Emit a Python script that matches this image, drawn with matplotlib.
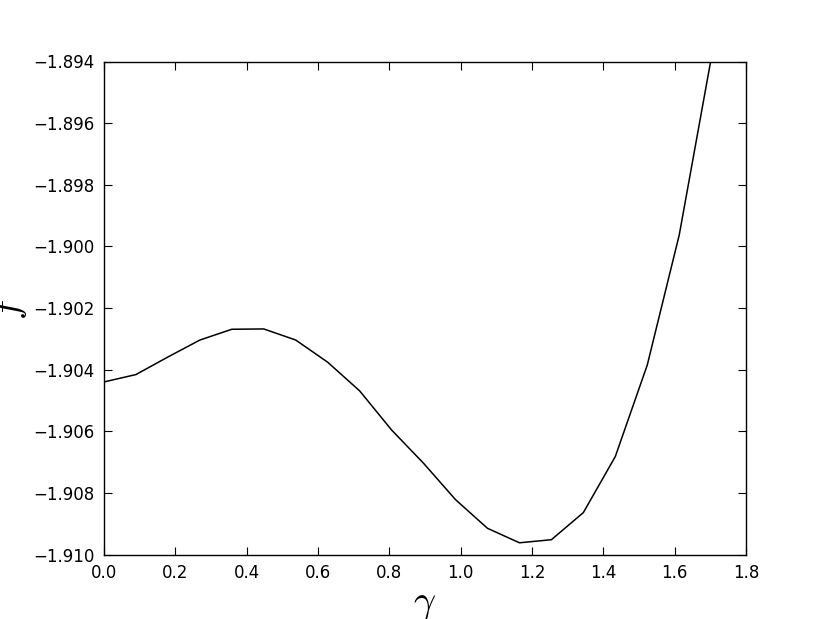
import matplotlib
matplotlib.use("Agg")
import matplotlib.pyplot as plt

# gamma grid and free energy values
gamma = [0.0, 0.0896, 0.1792, 0.2688, 0.3584, 0.448, 0.5376, 0.6272, 0.7168,
         0.8064, 0.896, 0.9856, 1.0752, 1.1648, 1.2544, 1.344, 1.4336, 1.5232,
         1.6128, 1.7024]
f_vals = [-1.90440, -1.90416, -1.90359, -1.90304, -1.90269, -1.90268, -1.90304,
          -1.90376, -1.90469, -1.90596, -1.90704, -1.90822, -1.90915, -1.90962,
          -1.90952, -1.90864, -1.90682, -1.90385, -1.89963, -1.89390]

xticks = [0.0, 0.2, 0.4, 0.6, 0.8, 1.0, 1.2, 1.4, 1.6, 1.8]
yticks = [-1.910, -1.908, -1.906, -1.904, -1.902, -1.900, -1.898, -1.896, -1.894]

plt.rcParams['mathtext.fontset'] = 'cm'
plt.rcParams['font.family'] = 'DejaVu Sans'

fig = plt.figure(figsize=(8.3, 6.19), dpi=100)
ax = fig.add_axes([104 / 830, 1 - 554.5 / 619, 642 / 830, 493 / 619])

ax.plot(gamma, f_vals, color='black', linewidth=1.1)

ax.set_xlim(0.0, 1.8)
ax.set_ylim(-1.910, -1.894)
ax.set_xticks(xticks)
ax.set_yticks(yticks)
ax.set_xticklabels([f"{v:.1f}" for v in xticks])
ax.set_yticklabels([f"{v:.3f}".replace('-', '\u2212') for v in yticks])

ax.tick_params(direction='in', length=5.6, width=0.8, labelsize=12,
               top=True, right=True, pad=7)
for sp in ax.spines.values():
    sp.set_linewidth(1.0)

ax.set_xlabel(r'$\gamma$', fontsize=28)
ax.set_ylabel(r'$f$', fontsize=28)
ax.xaxis.set_label_coords(0.5, -0.06)
ax.yaxis.set_label_coords(-0.117, 0.5)

fig.savefig('out.png', dpi=100)
